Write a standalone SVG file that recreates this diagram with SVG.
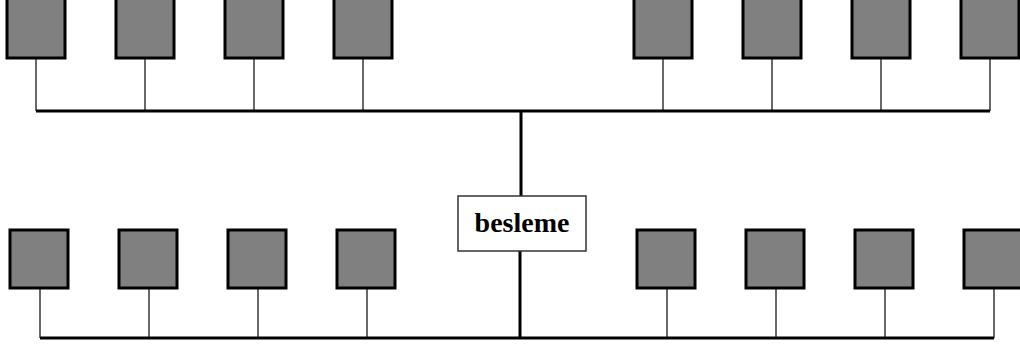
<svg xmlns="http://www.w3.org/2000/svg" width="1020" height="349" viewBox="0 0 1020 349">
<style>
.n{fill:#808080;stroke:#000;stroke-width:3}
.d{stroke:#444;stroke-width:1.6;fill:none}
.b{stroke:#000;stroke-width:3;fill:none}
.s{fill:#fff;stroke:#333;stroke-width:1.5}
.t{font-family:"Liberation Serif",serif;font-weight:bold;font-size:28px;fill:#000}
</style>
<rect width="1020" height="349" fill="#fff"/>
<g id="connectors">
<path class="d" d="M36 58V111M145 58V111M254 58V111M363 58V111M663 58V111M772 58V111M881 58V111M990 58V111"/>
<path class="d" d="M40 288V338M149 288V338M258 288V338M367 288V338M667 288V338M776 288V338M885 288V338M994 288V338"/>
<path class="b" d="M36 111H990M40 338H994M521 111V196M520 251V338"/>
</g>
<g id="t1"><rect class="n" x="7" y="-2" width="58" height="60"/></g>
<g id="t2"><rect class="n" x="116" y="-2" width="58" height="60"/></g>
<g id="t3"><rect class="n" x="225" y="-2" width="58" height="60"/></g>
<g id="t4"><rect class="n" x="334" y="-2" width="58" height="60"/></g>
<g id="t5"><rect class="n" x="634" y="-2" width="58" height="60"/></g>
<g id="t6"><rect class="n" x="743" y="-2" width="58" height="60"/></g>
<g id="t7"><rect class="n" x="852" y="-2" width="58" height="60"/></g>
<g id="t8"><rect class="n" x="961" y="-2" width="58" height="60"/></g>
<g id="b1"><rect class="n" x="10" y="230" width="58" height="58"/></g>
<g id="b2"><rect class="n" x="119" y="230" width="58" height="58"/></g>
<g id="b3"><rect class="n" x="228" y="230" width="58" height="58"/></g>
<g id="b4"><rect class="n" x="337" y="230" width="58" height="58"/></g>
<g id="b5"><rect class="n" x="637" y="230" width="58" height="58"/></g>
<g id="b6"><rect class="n" x="746" y="230" width="58" height="58"/></g>
<g id="b7"><rect class="n" x="855" y="230" width="58" height="58"/></g>
<g id="b8"><rect class="n" x="964" y="230" width="58" height="58"/></g>
<g id="besleme"><rect class="s" x="458" y="196" width="128" height="55"/>
<text class="t" x="522" y="232" text-anchor="middle">besleme</text></g>
</svg>
